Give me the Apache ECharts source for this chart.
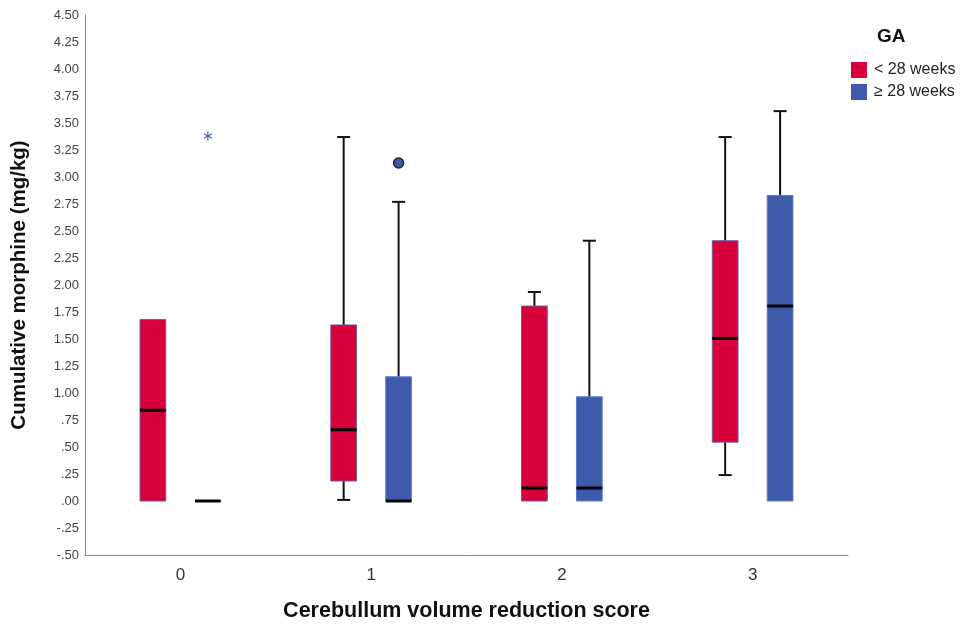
<!DOCTYPE html>
<html><head><meta charset="utf-8">
<script src="https://cdn.jsdelivr.net/npm/echarts@6/dist/echarts.min.js"></script>
<style>html,body{margin:0;padding:0;background:#fff}#c{width:968px;height:635px}</style>
</head><body><div id="c"></div>
<script>
const categories = ['0', '1', '2', '3'];
const seriesNames = ['< 28 weeks', '≥ 28 weeks'];
// each row: [min, q1, median, q3, max]
const under28 = [
  [0, 0, 0.84, 1.68, 1.68],
  [0.01, 0.185, 0.66, 1.63, 3.37],
  [0, 0, 0.12, 1.805, 1.935],
  [0.24, 0.545, 1.505, 2.41, 3.37]
];
const over28 = [
  [0, 0, 0, 0, 0],
  [0, 0, 0, 1.15, 2.77],
  [0, 0, 0.12, 0.965, 2.41],
  [0, 0, 1.805, 2.83, 3.61]
];
// outliers of the ≥ 28 weeks group: [category index, value]
const outliersCircle = [[1, 3.13]];
const outliersExtreme = [[0, 3.38]];
const yMin = -0.5, yMax = 4.5, yStep = 0.25;

const RED = '#D6003A', RED_BORDER = '#6E5AA8';
const BLUE = '#3F5AAA', BLUE_BORDER = '#5B7ED0';

function fmt(v) {
  const s = Math.abs(v).toFixed(2).replace(/^0/, '');
  return (v < 0 ? '-' : '') + s;
}

function boxRender(sign, fill, stroke) {
  return function (params, api) {
    const ci = api.value(0);
    const mn = api.value(1), q1 = api.value(2), md = api.value(3), q3 = api.value(4), mx = api.value(5);
    const band = api.size([1, 0])[0];
    const cx = api.coord([ci, 0])[0] + sign * band * 0.144;
    const bw = band * 0.135;
    const cap = 13;
    const y = v => api.coord([ci, v])[1];
    const kids = [];
    const lineStyle = { stroke: '#111', lineWidth: 2 };
    if (mx > q3) {
      kids.push({ type: 'line', shape: { x1: cx, y1: y(mx), x2: cx, y2: y(q3) }, style: lineStyle });
      kids.push({ type: 'line', shape: { x1: cx - cap / 2, y1: y(mx), x2: cx + cap / 2, y2: y(mx) }, style: lineStyle });
    }
    if (mn < q1) {
      kids.push({ type: 'line', shape: { x1: cx, y1: y(mn), x2: cx, y2: y(q1) }, style: lineStyle });
      kids.push({ type: 'line', shape: { x1: cx - cap / 2, y1: y(mn), x2: cx + cap / 2, y2: y(mn) }, style: lineStyle });
    }
    if (q3 > q1) {
      kids.push({ type: 'rect', shape: { x: cx - bw / 2, y: y(q3), width: bw, height: y(q1) - y(q3) },
        style: { fill: fill, stroke: stroke, lineWidth: 1 } });
    }
    kids.push({ type: 'line', shape: { x1: cx - bw / 2, y1: y(md), x2: cx + bw / 2, y2: y(md) },
      style: { stroke: '#000', lineWidth: 3 } });
    return { type: 'group', children: kids };
  };
}

function outlierRender(sign, kind) {
  return function (params, api) {
    const ci = api.value(0);
    const band = api.size([1, 0])[0];
    const p = api.coord([ci, api.value(1)]);
    const cx = p[0] + sign * band * 0.144, cy = p[1];
    if (kind === 'circle') {
      return { type: 'circle', shape: { cx: cx, cy: cy, r: 5 }, style: { fill: BLUE, stroke: '#222', lineWidth: 1.5 } };
    }
    const r = 4.5, kids = [];
    for (let k = 0; k < 3; k++) {
      const a = Math.PI / 2 + k * Math.PI / 3;
      kids.push({ type: 'line', shape: { x1: cx - r * Math.cos(a), y1: cy - r * Math.sin(a), x2: cx + r * Math.cos(a), y2: cy + r * Math.sin(a) },
        style: { stroke: BLUE, lineWidth: 1.2 } });
    }
    return { type: 'group', children: kids };
  };
}

const chart = echarts.init(document.getElementById('c'), null, { renderer: 'canvas' });
chart.setOption({
  animation: false,
  backgroundColor: '#fff',
  title: { text: 'GA', left: 872, top: 22, textStyle: { fontFamily: 'Liberation Sans', fontSize: 19, fontWeight: 'bold', color: '#111' } },
  legend: {
    data: seriesNames.map(n => ({ name: n, icon: 'rect' })),
    orient: 'vertical', left: 846, top: 57, itemWidth: 16, itemHeight: 16, itemGap: 6,
    textStyle: { fontFamily: 'Liberation Sans', fontSize: 16, color: '#222', padding: [0, 0, 0, 2] }
  },
  grid: { left: 85, right: 120, top: 15, bottom: 80 },
  xAxis: {
    type: 'category', data: categories,
    name: 'Cerebullum volume reduction score', nameLocation: 'middle', nameGap: 45,
    nameTextStyle: { fontFamily: 'Liberation Sans', fontSize: 21.5, fontWeight: 'bold', color: '#111' },
    axisLine: { onZero: false, lineStyle: { color: '#888', width: 1 } },
    axisTick: { show: false },
    axisLabel: { fontFamily: 'Liberation Sans', fontSize: 17, color: '#333', margin: 12 },
    splitLine: { show: false }
  },
  yAxis: {
    type: 'value', min: yMin, max: yMax, interval: yStep,
    name: 'Cumulative morphine (mg/kg)', nameLocation: 'middle', nameGap: 55,
    nameTextStyle: { fontFamily: 'Liberation Sans', fontSize: 20.5, fontWeight: 'bold', color: '#111' },
    axisLine: { show: true, onZero: false, lineStyle: { color: '#888', width: 1 } },
    axisTick: { show: false },
    axisLabel: { fontFamily: 'Liberation Sans', fontSize: 13, color: '#444', margin: 6, formatter: fmt },
    splitLine: { show: false }
  },
  series: [
    { name: seriesNames[0], type: 'custom', itemStyle: { color: RED },
      renderItem: boxRender(-1, RED, RED_BORDER), encode: { x: 0, y: [1, 2, 3, 4, 5] },
      data: under28.map((r, i) => [i].concat(r)) },
    { name: seriesNames[1], type: 'custom', itemStyle: { color: BLUE },
      renderItem: boxRender(1, BLUE, BLUE_BORDER), encode: { x: 0, y: [1, 2, 3, 4, 5] },
      data: over28.map((r, i) => [i].concat(r)) },
    { name: seriesNames[1], type: 'custom', itemStyle: { color: BLUE },
      renderItem: outlierRender(1, 'circle'), encode: { x: 0, y: 1 }, data: outliersCircle },
    { name: seriesNames[1], type: 'custom', itemStyle: { color: BLUE },
      renderItem: outlierRender(1, 'star'), encode: { x: 0, y: 1 }, data: outliersExtreme }
  ]
});
</script>
</body></html>
